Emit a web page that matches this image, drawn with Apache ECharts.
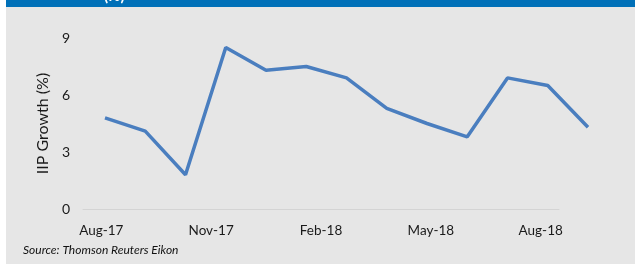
<!DOCTYPE html>
<html>
<head>
<meta charset="utf-8">
<script src="https://cdn.jsdelivr.net/npm/echarts@6/dist/echarts.min.js"></script>
<style>
  html, body { margin: 0; padding: 0; background: #fff; }
  #chart { width: 635px; height: 267px; }
</style>
</head>
<body>
<div id="chart"></div>
<script>
// monthly IIP growth, Aug-17 .. Aug-18
const months = ["Aug-17", "Sep-17", "Oct-17", "Nov-17", "Dec-17", "Jan-18", "Feb-18",
  "Mar-18", "Apr-18", "May-18", "Jun-18", "Jul-18", "Aug-18"];
const iipGrowth = [4.8, 4.1, 1.8, 8.5, 7.3, 7.5, 6.9, 5.3, 4.5, 3.8, 6.9, 6.5, 4.3];
const yTicks = [0, 3, 6, 9];

const font = "Lato";
const chart = echarts.init(document.getElementById("chart"));

chart.setOption({
  animation: false,
  graphic: [
    { type: "rect", z: -10, shape: { x: 6, y: 7, width: 629, height: 257 }, style: { fill: "#e6e6e6" } },
    { type: "rect", z: -10, shape: { x: 6, y: 0, width: 629, height: 7 }, style: { fill: "#0070b8" } },
    { type: "text", left: 104, top: -11, style: { text: "(%)", fill: "#fff", font: "bold 15px " + font } },
    {
      type: "text", left: 23, top: 244,
      style: { text: "Source: Thomson Reuters Eikon", fill: "#111", font: "italic 12px " + font }
    }
  ],
  grid: [
    { left: 83, right: 76, top: 38, height: 171 },
    { left: 105, width: 483, top: 38, height: 171 }
  ],
  xAxis: [
    {
      type: "category", gridIndex: 0, data: months, boundaryGap: true,
      axisLine: { lineStyle: { color: "#d4d4d4", width: 1 } },
      axisTick: { show: false },
      axisLabel: { interval: 2, margin: 15, color: "#1a1a1a", fontFamily: font, fontSize: 13.5 }
    },
    {
      type: "category", gridIndex: 1, data: months, boundaryGap: false,
      axisLine: { show: false }, axisTick: { show: false }, axisLabel: { show: false }
    }
  ],
  yAxis: [
    {
      type: "value", gridIndex: 0, min: yTicks[0], max: yTicks[yTicks.length - 1], interval: 3,
      name: "IIP Growth (%)", nameLocation: "middle", nameGap: 29, nameRotate: 90,
      nameTextStyle: { color: "#1a1a1a", fontFamily: font, fontSize: 16 },
      axisLine: { show: false }, axisTick: { show: false }, splitLine: { show: false },
      axisLabel: { margin: 13, color: "#1a1a1a", fontFamily: font, fontSize: 14 }
    },
    {
      type: "value", gridIndex: 1, min: yTicks[0], max: yTicks[yTicks.length - 1], interval: 3,
      show: false, splitLine: { show: false }
    }
  ],
  series: [
    {
      type: "line", xAxisIndex: 1, yAxisIndex: 1, data: iipGrowth,
      symbol: "none", lineStyle: { color: "#4a7ebf", width: 3.5 }
    }
  ]
});
</script>
</body>
</html>
